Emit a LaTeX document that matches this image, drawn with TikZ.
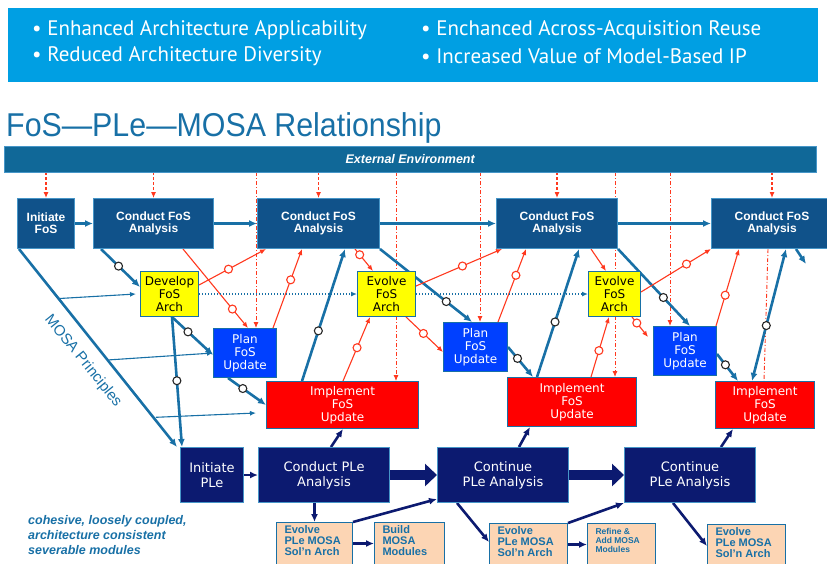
\documentclass[tikz,border=0pt]{standalone}
\usepackage{fontspec}
\setmainfont{Liberation Sans}
\newfontfamily\bannerfont{PT Sans}
\newfontfamily\boxfont{DejaVu Sans}
\usetikzlibrary{arrows.meta,positioning,backgrounds,calc}

\definecolor{bannerblue}{RGB}{0,159,227}
\definecolor{steelblue}{RGB}{24,112,166}
\definecolor{envblue}{RGB}{16,104,152}
\definecolor{fosblue}{RGB}{16,82,138}
\definecolor{fosedge}{RGB}{70,150,200}
\definecolor{planblue}{RGB}{0,64,255}
\definecolor{implred}{RGB}{255,0,0}
\definecolor{archyellow}{RGB}{255,255,0}
\definecolor{plenavy}{RGB}{12,26,112}
\definecolor{modpeach}{RGB}{252,213,180}
\definecolor{linkred}{RGB}{255,56,30}

\tikzset{>={Latex[length=8pt,width=7pt]}}

\begin{document}
\begin{tikzpicture}[x=1pt,y=-1pt]
	\tikzset{fosbox/.style={draw=fosedge, fill=fosblue, line width=1pt, text=white, align=center, anchor=north west, inner sep=0pt, minimum height=50pt, font=\bfseries\fontsize{12}{12}\selectfont},
		archbox/.style={draw=steelblue, fill=archyellow, line width=1pt, align=center, anchor=north west, inner sep=0pt, minimum width=58pt, minimum height=45pt, font=\boxfont\fontsize{12}{13}\selectfont},
		planbox/.style={archbox, fill=planblue, text=white, minimum width=63pt, minimum height=49pt},
		implbox/.style={archbox, fill=implred, text=white, minimum height=47pt},
		plebox/.style={draw=fosedge, fill=plenavy, line width=1pt, text=white, align=center, anchor=north west, inner sep=0pt, minimum height=55pt, font=\boxfont\fontsize{13}{15}\selectfont},
		modbox/.style={draw=steelblue, fill=modpeach, line width=1pt, text=steelblue, anchor=north west, inner xsep=8pt, inner ysep=3pt, font=\bfseries\fontsize{11}{11}\selectfont},
		ring/.style={circle, draw=black!85, fill=white, line width=1.1pt, inner sep=0pt, minimum size=8pt},
		redring/.style={ring, draw=linkred},
		redtip/.style={-{Latex[length=6pt,width=5pt]}},
		fosflow/.style={draw=steelblue, line width=2.6pt, ->},
		mosaflow/.style={draw=steelblue, line width=1.1pt, redtip},
		archlink/.style={draw=steelblue, line width=1.3pt, dash pattern=on 1.3pt off 1.7pt, redtip},
		redflow/.style={draw=linkred, line width=1.1pt, redtip},
		envflow/.style={redflow, dash pattern=on 3pt off 2pt},
		envline/.style={draw=linkred, line width=.9pt, dash pattern=on 4pt off 2pt on 1pt off 2pt},
		pleflow/.style={draw=plenavy, line width=2.6pt, ->},
		pleblock/.style={draw=plenavy, line width=10pt, -{Triangle[length=12pt,width=22pt]}},
		bullet/.style={anchor=west, text=white, inner sep=0pt, font=\bannerfont\fontsize{21}{22}\selectfont},
	}
	\useasboundingbox (0,0) rectangle (827,563);

	% benefits banner
	\node [fill=bannerblue, anchor=north west, minimum width=810pt, minimum height=74pt, inner sep=0pt] (banner) at (8,8) {};
	\node [bullet] (b1) at (32,30) {\textbullet\ Enhanced Architecture Applicability};
	\node [bullet] (b2) at (32,56) {\textbullet\ Reduced Architecture Diversity};
	\node [bullet] (b3) at (421,30) {\textbullet\ Enchanced Across-Acquisition Reuse};
	\node [bullet] (b4) at (421,56) {\textbullet\ Increased Value of Model-Based IP};

	\node [anchor=base west, text=steelblue, inner sep=0pt, font=\fontsize{33}{33}\selectfont] (title) at (6,136) {\scalebox{.92}[1]{FoS—PLe—MOSA Relationship}};
	\node [fill=envblue, draw=fosedge, anchor=north west, minimum width=812pt, minimum height=26pt, inner sep=0pt, text=white, font=\bfseries\itshape\fontsize{12.5}{12.5}\selectfont] (env) at (4,146) {External Environment};

	% FoS row
	\node [fosbox, minimum width=57pt] (ifos) at (17,198) {Initiate\\FoS};
	\node [fosbox, minimum width=120pt, right=18pt of ifos] (cfos1) {Conduct FoS\\Analysis};
	\node [fosbox, minimum width=122pt, right=43pt of cfos1] (cfos2) {Conduct FoS\\Analysis};
	\node [fosbox, minimum width=121pt, right=116pt of cfos2] (cfos3) {Conduct FoS\\Analysis};
	\node [fosbox, minimum width=121pt, right=93pt of cfos3] (cfos4) {Conduct FoS\\Analysis};
	\coordinate (out) at (806,264);

	\node [archbox] (dfos) at (140,271) {Develop\\FoS\\Arch};
	\node [archbox, right=158pt of dfos] (efos1) {Evolve\\FoS\\Arch};
	\node [archbox, minimum width=52pt, right=172pt of efos1] (efos2) {Evolve\\FoS\\Arch};

	\node [planbox] (pfos1) at (213,328) {Plan\\FoS\\Update};
	\node [planbox, minimum width=64pt] (pfos2) at (443,322) {Plan\\FoS\\Update};
	\node [planbox] (pfos3) at (653,326) {Plan\\FoS\\Update};

	\node [implbox, minimum width=152pt] (ufos1) at (266,381) {Implement\\FoS\\Update};
	\node [implbox, minimum width=129pt, minimum height=49pt] (ufos2) at (507,377) {Implement\\FoS\\Update};
	\node [implbox, minimum width=99pt] (ufos3) at (715,381) {Implement\\FoS\\Update};

	% PLe row
	\node [plebox, minimum width=63pt] (iple) at (180,447) {Initiate\\PLe};
	\node [plebox, minimum width=131pt, right=14pt of iple] (cple) {Conduct PLe\\Analysis};
	\node [plebox, minimum width=131pt, right=47pt of cple] (nple1) {Continue\\PLe Analysis};
	\node [plebox, minimum width=131pt, right=55pt of nple1] (nple2) {Continue\\PLe Analysis};

	\node [modbox] (mod1) at (276,522) {\parbox[t][36pt][t]{60pt}{Evolve\\PLe MOSA\\Sol'n Arch}};
	\node [modbox, right=21pt of mod1] (mod2) {\parbox[t][36pt][t]{54pt}{Build\\MOSA\\Modules}};
	\node [modbox] (mod3) at (489,523) {\parbox[t][36pt][t]{62pt}{Evolve\\PLe MOSA\\Sol'n Arch}};
	\node [modbox, font=\bfseries\fontsize{8.5}{9}\selectfont, right=19pt of mod3] (mod4) {\parbox[t][36pt][t]{52pt}{\vspace*{2pt}Refine \&\\Add MOSA\\Modules}};
	\node [modbox] (mod5) at (707,524) {\parbox[t][36pt][t]{62pt}{Evolve\\PLe MOSA\\Sol'n Arch}};

	\node [rotate=-51, text=steelblue, inner sep=0pt, font=\fontsize{15}{15}\selectfont] (mosa) at (83,361) {MOSA Principles};
	\node [anchor=north west, align=left, text=steelblue, inner sep=0pt, font=\bfseries\itshape\fontsize{12.5}{15}\selectfont] (note) at (28,515) {cohesive, loosely coupled,\\architecture consistent\\severable modules};

	\begin{scope}[on background layer]
		% external environment
		\draw [envflow] (ifos.north |- env.south) -- (ifos.north);
		\draw [envflow] (cfos1.north |- env.south) -- (cfos1.north);
		\draw [envflow] (cfos2.north |- env.south) -- (cfos2.north);
		\draw [envflow] (cfos3.north |- env.south) -- (cfos3.north);
		\draw [envflow] (cfos4.north |- env.south) -- (cfos4.north);
		\draw [envline, redtip] ([xshift=43pt]pfos1.north west |- env.south) -- ([xshift=43pt]pfos1.north west);
		\draw [envline, redtip] ([xshift=130pt]ufos1.north west |- env.south) -- ([xshift=130pt]ufos1.north west);
		\draw [envline, redtip] ([xshift=37pt]pfos2.north west |- env.south) -- ([xshift=37pt]pfos2.north west);
		\draw [envline, redtip] ([xshift=108pt]ufos2.north west |- env.south) -- ([xshift=108pt]ufos2.north west);
		\draw [envline, redtip] ([xshift=17pt]pfos3.north west |- env.south) -- ([xshift=17pt]pfos3.north west);
		\draw [envline] ([xshift=57pt]cfos4.south west) -- ([xshift=49pt]ufos3.north west);

		% MOSA principles
		\draw [fosflow] ([xshift=2pt]ifos.south west) -- ([xshift=-3pt]iple.north west);
		\draw [mosaflow] ($([xshift=2pt]ifos.south west)!.25!(iple.north west)$) -- ([xshift=-4pt]dfos.west);
		\draw [mosaflow] ($([xshift=2pt]ifos.south west)!.56!(iple.north west)$) -- (pfos1.west);
		\draw [mosaflow] ($([xshift=2pt]ifos.south west)!.85!(iple.north west)$) -- ([xshift=-10pt,yshift=-8pt]ufos1.west);

		% FoS flow
		\draw [fosflow] (ifos) -- (cfos1);
		\draw [fosflow] (cfos1) -- (cfos2);
		\draw [fosflow] (cfos2) -- (cfos3);
		\draw [fosflow] (cfos3) -- (cfos4);
		\draw [fosflow] ([xshift=8pt]cfos1.south west) -- node [ring, pos=.45] (o1) {} ([yshift=-16pt]dfos.north west);
		\draw [fosflow] ([xshift=32pt]dfos.south west) -- node [ring, pos=.39] (o2) {} ([yshift=-27pt]pfos1.north west);
		\draw [fosflow] ([xshift=32pt]dfos.south west) -- node [ring, pos=.49] (o3) {} ([xshift=2pt]iple.north west);
		\draw [fosflow] ([xshift=15pt]pfos1.south west) -- node [ring, pos=.39] (o4) {} ([yshift=-24pt]ufos1.north west);
		\draw [fosflow] ([xshift=36pt]ufos1.north west) -- node [ring, pos=.38] (o5) {} ([xshift=88pt]cfos2.south west);
		\draw [fosflow] (cfos2.south east) -- node [ring, pos=.72] (o6) {} ([xshift=29pt]pfos2.north west);
		\draw [fosflow] (pfos2.east) -- node [ring, pos=.38] (o7) {} ([xshift=26pt]ufos2.north west);
		\draw [fosflow] ([xshift=30pt]ufos2.north west) -- node [ring, pos=.43] (o8) {} ([xshift=83pt]cfos3.south west);
		\draw [fosflow] (cfos3.south east) -- node [ring, pos=.63] (o9) {} ([xshift=37pt]pfos3.north west);
		\draw [fosflow] ([yshift=-3pt]pfos3.east) -- node [ring, pos=.4] (o10) {} ([xshift=23pt]ufos3.north west);
		\draw [fosflow, <->] ([xshift=37pt]ufos3.north west) -- node [ring, pos=.42] (o11) {} ([xshift=75pt]cfos4.south west);
		\draw [fosflow] ([xshift=85pt]cfos4.south west) -- (out);

		% red feedback
		\draw [redflow] ([xshift=90pt]cfos1.south west) -- node [redring, pos=.76] (r1) {} ([xshift=35pt]pfos1.north west);
		\draw [redflow] ([yshift=-14pt]dfos.north east) -- node [redring, pos=.44] (r2) {} ([xshift=9pt]cfos2.south west);
		\draw [redflow] ([xshift=-4pt]pfos1.north east) -- node [redring, pos=.61] (r3) {} ([xshift=45pt]cfos2.south west);
		\draw [redflow] ([xshift=98pt]cfos2.south west) -- node [redring, pos=.26] (r4) {} ([xshift=16pt]efos1.north west);
		\draw [redflow] ([xshift=77pt]ufos1.north west) -- node [redring, pos=.52] (r5) {} ([xshift=13pt]efos1.south west);
		\draw [redflow] ([yshift=-15pt]efos1.north east) -- node [redring, pos=.54] (r6) {} ([xshift=6pt]cfos3.south west);
		\draw [redflow] ([xshift=49pt]efos1.south west) -- node [redring, pos=.47] (r7) {} ([yshift=-30pt]pfos2.north west);
		\draw [redflow] ([xshift=-10pt]pfos2.north east) -- node [redring, pos=.64] (r8) {} ([xshift=30pt]cfos3.south west);
		\draw [redflow] ([xshift=95pt]cfos3.south west) -- ([xshift=18pt]efos2.north west);
		\draw [redflow] ([xshift=84pt]ufos2.north west) -- node [redring, pos=.44] (r10) {} ([xshift=21pt]efos2.south west);
		\draw [redflow] ([yshift=-21pt]efos2.north east) -- node [redring, pos=.65] (r11) {} (cfos4.south west);
		\draw [redflow] ([xshift=44pt]efos2.south west) -- node [redring, pos=.3] (r12) {} ([xshift=-5pt,yshift=-11pt]pfos3.north west);
		\draw [redflow] ([xshift=-1pt]pfos3.north east) -- node [redring, pos=.4] (r13) {} ([xshift=28pt]cfos4.south west);

		\draw [archlink] (dfos) -- (efos1);
		\draw [archlink] (efos1) -- (efos2);

		% PLe flow
		\draw [pleflow] (iple) -- (cple);
		\draw [pleblock] (cple) -- (nple1);
		\draw [pleblock] (nple1) -- (nple2);
		\draw [pleflow] ([xshift=73pt]cple.north west) -- ([xshift=77pt]ufos1.south west);
		\draw [pleflow] ([xshift=82pt]nple1.north west) -- ([xshift=23pt]ufos2.south west);
		\draw [pleflow] ([xshift=97pt]nple2.north west) -- ([xshift=18pt]ufos3.south west);
		\draw [pleflow] (mod1.north |- cple.south) -- (mod1.north);
		\draw [pleflow] (mod1) -- (mod2);
		\draw [pleflow] (mod1.north east) -- ([yshift=4pt]nple1.south west);
		\draw [pleflow] ([xshift=20pt]nple1.south west) -- ([yshift=-19pt]mod3.north west);
		\draw [pleflow] (mod3) -- (mod4);
		\draw [pleflow] (mod3.north east) -- (nple2.south west);
		\draw [pleflow] ([xshift=49pt]nple2.south west) -- ([yshift=-22pt]mod5.north west);
	\end{scope}
\end{tikzpicture}
\end{document}
